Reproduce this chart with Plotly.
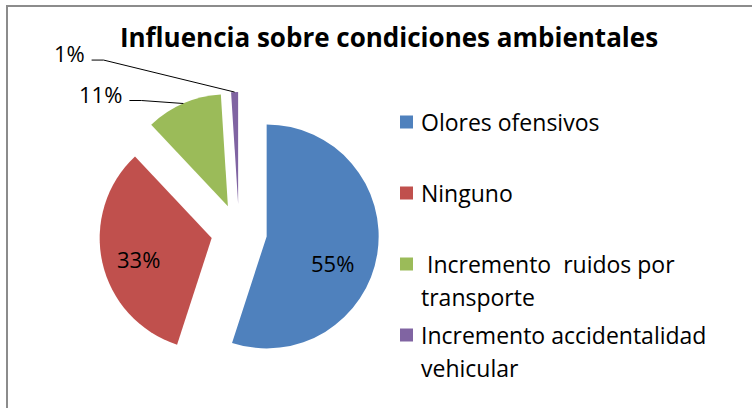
import math
import plotly.graph_objects as go

# data
labels = ["Olores ofensivos", "Ninguno", "Incremento ruidos por transporte",
          "Incremento accidentalidad vehicular"]
legend_lines = [["Olores ofensivos"], ["Ninguno"],
                ["\u00a0Incremento\u00a0\u00a0ruidos por", "transporte"],
                ["Incremento accidentalidad", "vehicular"]]
values = [55, 33, 11, 1]
colors = ["#4F81BD", "#C0504D", "#9BBB59", "#8064A2"]
title = "Influencia sobre condiciones ambientales"

W, H = 752, 408
FONT = "Open Sans"

# pie layout in pixels
cx, cy, r, pull = 239, 232, 112, 0.25
half = r * (1 + pull)


def X(px):
    return px / W


def Y(py):
    return 1 - py / H


total = sum(values)
fig = go.Figure(go.Pie(
    labels=labels, values=values, sort=False, direction="clockwise", rotation=0,
    marker=dict(colors=colors, line=dict(width=0)),
    pull=[pull] * len(values),
    textinfo="none",
    domain=dict(x=[X(cx - half), X(cx + half)], y=[Y(cy + half), Y(cy - half)]),
    showlegend=False, hoverinfo="label+percent",
))

shapes = []
annotations = []

# percentage labels: offsets (px) from the slice tip for inside ones,
# from the outer arc midpoint for outside ones (with leader lines)
inside_offsets = {0: (66, 27), 1: (-73, 21)}
outside_offsets = {2: (-59, -10), 3: (-148, -39)}
start = 0.0
for i, v in enumerate(values):
    ang = math.radians((start + v / 2) / total * 360)
    start += v
    tx = cx + r * pull * math.sin(ang)
    ty = cy - r * pull * math.cos(ang)
    ex = cx + half * math.sin(ang)
    ey = cy - half * math.cos(ang)
    pct = f"{v / total:.0%}"
    if i in inside_offsets:
        dx, dy = inside_offsets[i]
        annotations.append(dict(
            x=X(tx + dx), y=Y(ty + dy), xref="paper", yref="paper",
            xanchor="center", yanchor="middle", text=pct, showarrow=False,
            font=dict(family=FONT, size=22, color="black")))
    else:
        dx, dy = outside_offsets[i]
        lx, ly = ex + dx, ey + dy
        annotations.append(dict(
            x=X(lx), y=Y(ly), xref="paper", yref="paper", xanchor="right", yanchor="middle",
            text=pct, showarrow=False,
            font=dict(family=FONT, size=22, color="black")))
        shapes.append(dict(
            type="path", xref="paper", yref="paper",
            path=f"M {X(lx + 5)},{Y(ly + 7)} L {X(lx + 17)},{Y(ly + 7)} L {X(ex)},{Y(ey)}",
            line=dict(color="black", width=1)))

# legend drawn by hand to keep Excel's even spacing
for i, lines in enumerate(legend_lines):
    yc = 122 + 71 * i
    shapes.append(dict(type="rect", xref="paper", yref="paper",
                       x0=X(400), x1=X(413), y0=Y(yc - 6.5), y1=Y(yc + 6.5),
                       fillcolor=colors[i], line=dict(width=0)))
    for j, t in enumerate(lines):
        annotations.append(dict(
            x=X(419), y=Y(yc + 33 * j), xref="paper", yref="paper",
            xanchor="left", yanchor="middle", text=t, showarrow=False,
            font=dict(family=FONT, size=23, color="black")))

# chart area border (top and left edges visible, the rest runs off the page)
shapes.append(dict(type="rect", xref="paper", yref="paper",
                   x0=X(7), x1=X(W + 20), y0=Y(H + 20), y1=Y(6),
                   line=dict(color="#8c8c8c", width=2), fillcolor="rgba(0,0,0,0)",
                   layer="above"))

fig.update_layout(
    width=W, height=H,
    margin=dict(l=0, r=0, t=0, b=0),
    paper_bgcolor="white", plot_bgcolor="white",
    title=dict(text=f"<b>{title}</b>", x=X(389), xanchor="center",
               y=Y(38), yanchor="middle",
               font=dict(family=FONT, size=26, color="black")),
    shapes=shapes, annotations=annotations,
)

fig.write_html("out.html", config={"displayModeBar": False},
               post_script="document.body.style.margin = '0';")
